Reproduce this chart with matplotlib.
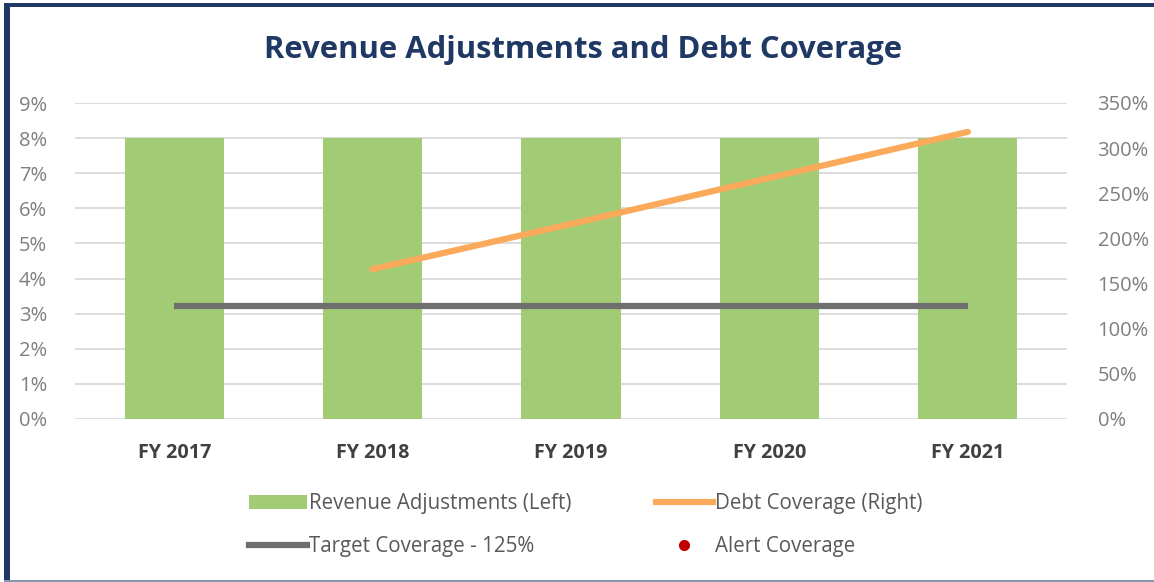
import matplotlib
matplotlib.use("Agg")
import matplotlib.pyplot as plt
from matplotlib.lines import Line2D
from matplotlib.patches import Patch, Rectangle
import numpy as np

categories = ["FY 2017", "FY 2018", "FY 2019", "FY 2020", "FY 2021"]
revenue_adjustments = [8, 8, 8, 8, 8]            # % (left axis)
debt_coverage = [np.nan, 166, 216, 267, 318]     # % (right axis)
target_coverage = [125, 125, 125, 125, 125]      # % (right axis)
left_ticks = [0, 1, 2, 3, 4, 5, 6, 7, 8, 9]
right_ticks = [0, 50, 100, 150, 200, 250, 300, 350]

plt.rcParams['font.family'] = ['Open Sans', 'DejaVu Sans']

fig = plt.figure(figsize=(11.54, 5.82), dpi=100)
fig.patch.set_facecolor("white")

ax = fig.add_axes([75/1154, 1-419/582, (1067-75)/1154, (419-103)/582])
ax2 = ax.twinx()

x = np.arange(len(categories))
green = "#A1CB74"
orange = "#FBA95B"
gray = "#6F6F6F"
tick_gray = "#7F7F7F"

ax.set_zorder(1)
ax2.set_zorder(2)
ax.patch.set_visible(False)

ax.bar(x, revenue_adjustments, width=0.5, color=green, zorder=2)
ax.set_ylim(0, 9)
ax.set_yticks(left_ticks)
ax.set_yticklabels([f"{t}%" for t in left_ticks])
ax.set_xlim(-0.5, len(categories) - 0.5)
ax.set_xticks(x)
ax.set_xticklabels(categories, fontweight="bold", color="#404040", fontsize=14.2)
ax.grid(axis="y", color="#D9D9D9", linewidth=1.3, zorder=0)
ax.set_axisbelow(True)

ax2.plot(x, target_coverage, color=gray, linewidth=4.5, solid_capstyle="butt")
ax2.plot(x, debt_coverage, color=orange, linewidth=4.5, solid_capstyle="round")
ax2.set_ylim(0, 350)
ax2.set_yticks(right_ticks)
ax2.set_yticklabels([f"{t}%" for t in right_ticks])

for a in (ax, ax2):
    for s in a.spines.values():
        s.set_visible(False)
    a.tick_params(length=0, labelsize=14.5, labelcolor=tick_gray)
ax.tick_params(axis="y", pad=20)
ax2.tick_params(axis="y", pad=22)
ax.tick_params(axis="x", pad=17, labelsize=14.2, labelcolor="#404040")

fig.text(583/1154, 1-50/582, "Revenue Adjustments and Debt Coverage",
         ha="center", va="center", fontsize=22.3, fontweight="bold", color="#1F3864")

handles = [
    Patch(facecolor=green, edgecolor="none"),
    Line2D([], [], color=orange, linewidth=4.5),
    Line2D([], [], color=gray, linewidth=4.5),
    Line2D([], [], color="#C00000", marker="o", linestyle="none", markersize=7),
]
labels = ["Revenue Adjustments (Left)", "Debt Coverage (Right)",
          "Target Coverage - 125%", "Alert Coverage"]
order = [0, 2, 1, 3]
leg = fig.legend([handles[i] for i in order], [labels[i] for i in order],
                 ncol=2, loc="center", bbox_to_anchor=(586/1154, 1-525/582),
                 frameon=False, fontsize=14.8, handlelength=2.8, handletextpad=0.1,
                 columnspacing=4.1, labelspacing=1.05, labelcolor="#595959")

# frame border
fig.add_artist(Rectangle((5/1154, 1-7/582), 1150/1154, 4/582, transform=fig.transFigure,
                         facecolor="#1F3864", edgecolor="none"))
fig.add_artist(Rectangle((4/1154, 0), 6/1154, 1-3/582, transform=fig.transFigure,
                         facecolor="#1F3864", edgecolor="none"))
fig.add_artist(Rectangle((4/1154, 0), 1150/1154, 2.5/582, transform=fig.transFigure,
                         facecolor="#8497B0", edgecolor="none"))

fig.savefig("out.png", dpi=100, facecolor="white")
